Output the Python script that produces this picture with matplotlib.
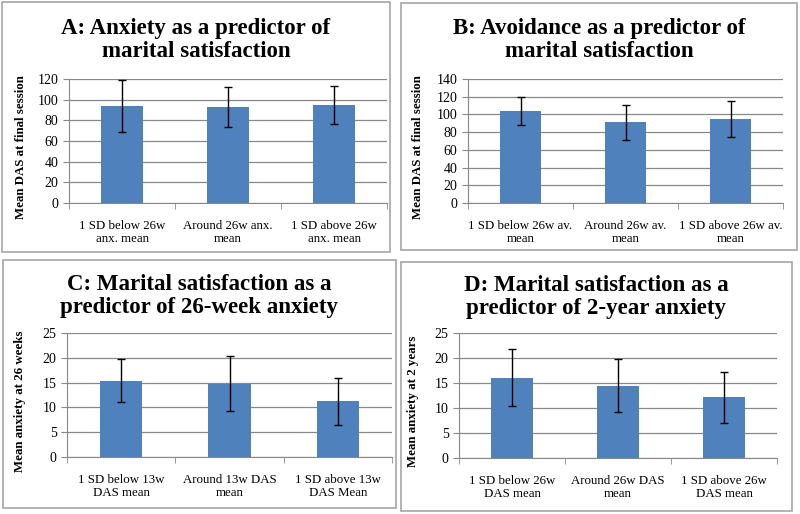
import matplotlib.pyplot as plt
from matplotlib.patches import Rectangle

W, H = 800, 514

titles = ["A: Anxiety as a predictor of\nmarital satisfaction",
          "B: Avoidance as a predictor of\nmarital satisfaction",
          "C: Marital satisfaction as a\npredictor of 26-week anxiety",
          "D: Marital satisfaction as a\npredictor of 2-year anxiety"]
ylabels = ["Mean DAS at final session", "Mean DAS at final session",
           "Mean anxiety at 26 weeks", "Mean anxiety at 2 years"]
cats = [["1 SD below 26w\nanx. mean", "Around 26w anx.\nmean", "1 SD above 26w\nanx. mean"],
        ["1 SD below 26w av.\nmean", "Around 26w av.\nmean", "1 SD above 26w av.\nmean"],
        ["1 SD below 13w\nDAS mean", "Around 13w DAS\nmean", "1 SD above 13w\nDAS Mean"],
        ["1 SD below 26w\nDAS mean", "Around 26w DAS\nmean", "1 SD above 26w\nDAS mean"]]
means = [[94, 93, 94.5],
         [103.8, 91, 94.5],
         [15.4, 14.8, 11.2],
         [16.1, 14.5, 12.2]]
errs = [[25, 19, 18.5],
        [16.2, 19.5, 20.5],
        [4.4, 5.6, 4.7],
        [5.7, 5.3, 5.1]]
ymax = [120, 140, 25, 25]
ystep = [20, 20, 5, 5]

# layout in pixels: panel box (x0, y0, x1, y1), plot area (x0, y_top, x1, y_bottom)
boxes = [(2, 2, 390, 252), (401, 3, 797, 250), (3, 260, 396, 508), (401, 262, 792, 511)]
areas = [(69, 79, 387, 203), (468, 79, 783, 203), (67, 333, 392, 457), (459, 333, 777, 458)]
title_y = [40, 40, 296, 297]
ylab_x = [27, 424, 26, 419]

plt.rcParams['font.family'] = 'Liberation Serif'
fig = plt.figure(figsize=(W / 100, H / 100), dpi=100)

for i in range(4):
    bx0, by0, bx1, by1 = boxes[i]
    fig.add_artist(Rectangle((bx0 / W, 1 - by1 / H), (bx1 - bx0) / W, (by1 - by0) / H,
                             transform=fig.transFigure, fill=False,
                             edgecolor='#a6a6a6', linewidth=1.2))
    ax0, ay0, ax1, ay1 = areas[i]
    ax = fig.add_axes([ax0 / W, 1 - ay1 / H, (ax1 - ax0) / W, (ay1 - ay0) / H])
    x = range(3)
    ax.bar(x, means[i], width=0.39, color='#4f81bd', zorder=2)
    ax.errorbar(x, means[i], yerr=errs[i], fmt='none', ecolor='black',
                elinewidth=1, capsize=3, capthick=1, zorder=3)
    ax.set_xlim(-0.5, 2.5)
    ax.set_ylim(0, ymax[i])
    ax.set_yticks(range(0, ymax[i] + 1, ystep[i]))
    ax.yaxis.grid(True, color='#888888', linewidth=0.9, zorder=0)
    ax.set_axisbelow(True)
    ax.set_xticks(list(x))
    ax.set_xticklabels(cats[i], fontsize=9.3, linespacing=1.15)
    ax.set_xticks([-0.5, 0.5, 1.5, 2.5], minor=True)
    ax.tick_params(axis='x', which='major', length=0, pad=12)
    ax.tick_params(axis='x', which='minor', length=4, color='#888888')
    ax.tick_params(axis='y', length=4, color='#888888', labelsize=10)
    for s in ['top', 'right']:
        ax.spines[s].set_visible(False)
    for s in ['left', 'bottom']:
        ax.spines[s].set_color('#888888')
    ax.set_ylabel(ylabels[i], fontsize=9.3, fontweight='bold')
    ax.yaxis.set_label_coords((ylab_x[i] - ax0) / (ax1 - ax0), 0.45)
    fig.text(((bx0 + bx1) / 2) / W, 1 - title_y[i] / H, titles[i], ha='center', va='center',
             fontsize=16.5, fontweight='bold', linespacing=1.15)

fig.savefig('out.png', dpi=100)
